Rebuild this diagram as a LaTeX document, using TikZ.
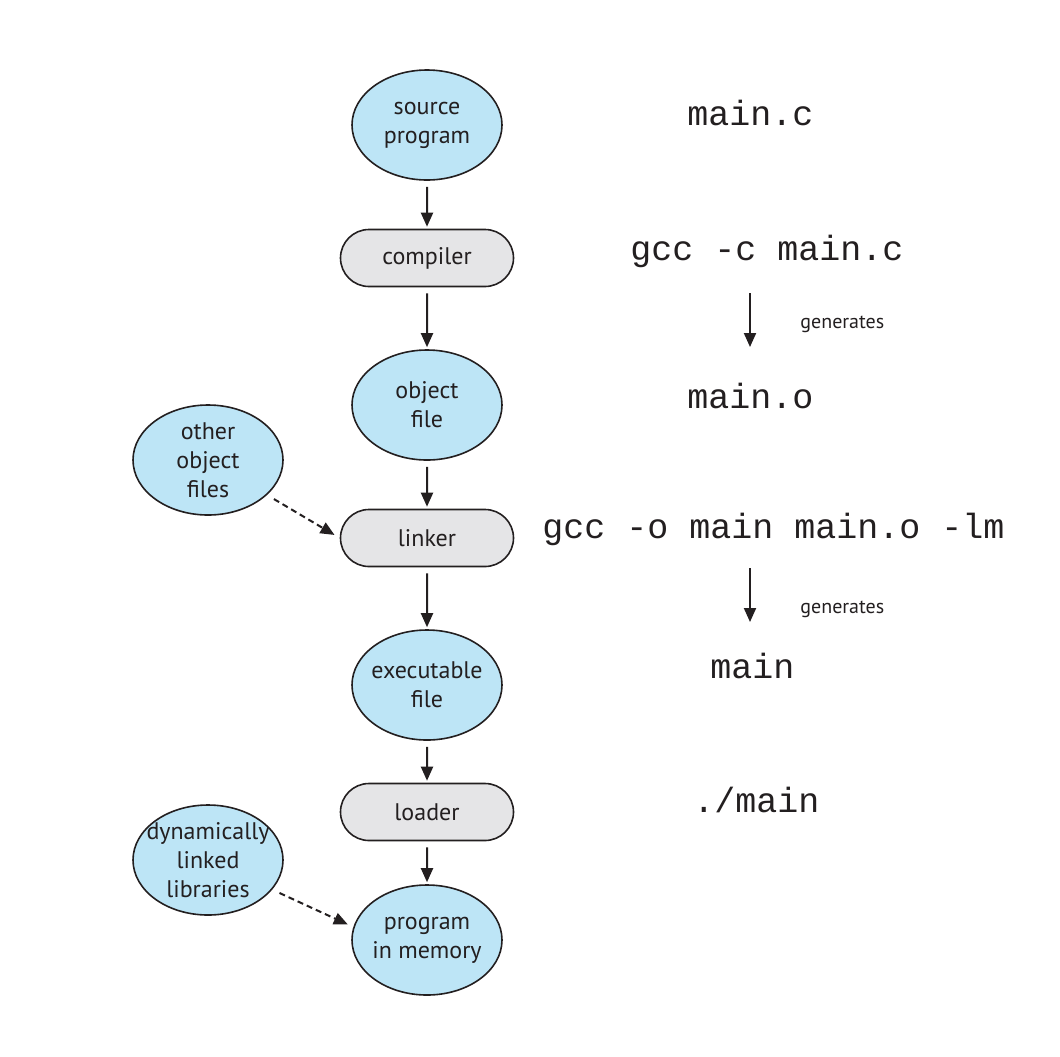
\documentclass[tikz,border=0pt]{standalone}
\usepackage{fontspec}
\setsansfont{PT Sans}
\setmonofont{Liberation Mono}
\usetikzlibrary{arrows.meta,positioning,shapes.geometric,shapes.misc}
\definecolor{ink}{HTML}{231F20}
\definecolor{filebl}{HTML}{BDE5F6}
\definecolor{stagegr}{HTML}{E5E5E7}
\tikzset{
  prog/.style={ellipse,draw=ink,line width=.8pt,fill=filebl,minimum width=75pt,minimum height=55pt,inner xsep=-2pt,inner ysep=0pt,align=center,font=\sffamily\fontsize{12}{14.5}\selectfont,text=ink},
  stage/.style={rounded rectangle,draw=ink,line width=.8pt,fill=stagegr,minimum width=86.5pt,minimum height=28.5pt,inner sep=0pt,font=\sffamily\fontsize{12}{14.5}\selectfont,text=ink},
  cmd/.style={anchor=base west,inner sep=0pt,font=\ttfamily\fontsize{17.5}{20}\selectfont,text=ink},
  note/.style={anchor=base west,inner sep=0pt,font=\sffamily\fontsize{10}{12}\selectfont,text=ink},
  ar/.style={-{Triangle[length=7pt,width=6pt]},draw=ink,line width=1pt,shorten <=3pt,shorten >=1pt},
  ard/.style={ar,dash pattern=on 3pt off 2pt,shorten <=4pt,shorten >=3pt},
}
\begin{document}
\begin{tikzpicture}[x=0.5pt,y=0.5pt]
  \useasboundingbox (0,0) rectangle (1060,-1056);
  % main chain
  \node[prog] (src) at (427,-125) {source\\program};
  \node[stage] (cc) at (427,-258) {compiler};
  \node[prog] (obj) at (427,-405) {object\\file};
  \node[stage] (lnk) at (427,-538) {linker};
  \node[prog] (exe) at (427,-685) {executable\\file};
  \node[stage] (ldr) at (427,-812) {loader};
  \node[prog] (mem) at (427,-940) {program\\in memory};
  \draw[ar] (src)--(cc); \draw[ar] (cc)--(obj); \draw[ar] (obj)--(lnk);
  \draw[ar] (lnk)--(exe); \draw[ar] (exe)--(ldr); \draw[ar] (ldr)--(mem);

  % side inputs
  \node[prog] (oth) at (208,-460) {other\\object\\files};
  \node[prog,inner xsep=-5pt,inner ysep=-3pt] (dyn) at (208,-860) {dynamically\\linked\\libraries};
  \draw[ard] (oth)--(lnk.west);
  \draw[ard] (dyn)--(mem.170);

  % commands
  \node[cmd] (c1) at (687,-125) {main.c};
  \node[cmd] (c2) at (630,-260) {gcc -c main.c};
  \node[cmd] (c3) at (687,-408) {main.o};
  \node[cmd] (c4) at (542,-538) {gcc -o main main.o -lm};
  \node[cmd] (c5) at (710,-678) {main};
  \node[cmd] (c6) at (693,-812) {./main};
  \coordinate (g1a) at (750,-293); \coordinate (g1b) at (750,-347);
  \coordinate (g2a) at (750,-568); \coordinate (g2b) at (750,-622);
  \draw[ar,shorten <=0pt,shorten >=0pt] (g1a)--(g1b);
  \draw[ar,shorten <=0pt,shorten >=0pt] (g2a)--(g2b);
  \node[note] (n1) at (800,-328) {generates};
  \node[note] (n2) at (800,-613) {generates};
\end{tikzpicture}
\end{document}
